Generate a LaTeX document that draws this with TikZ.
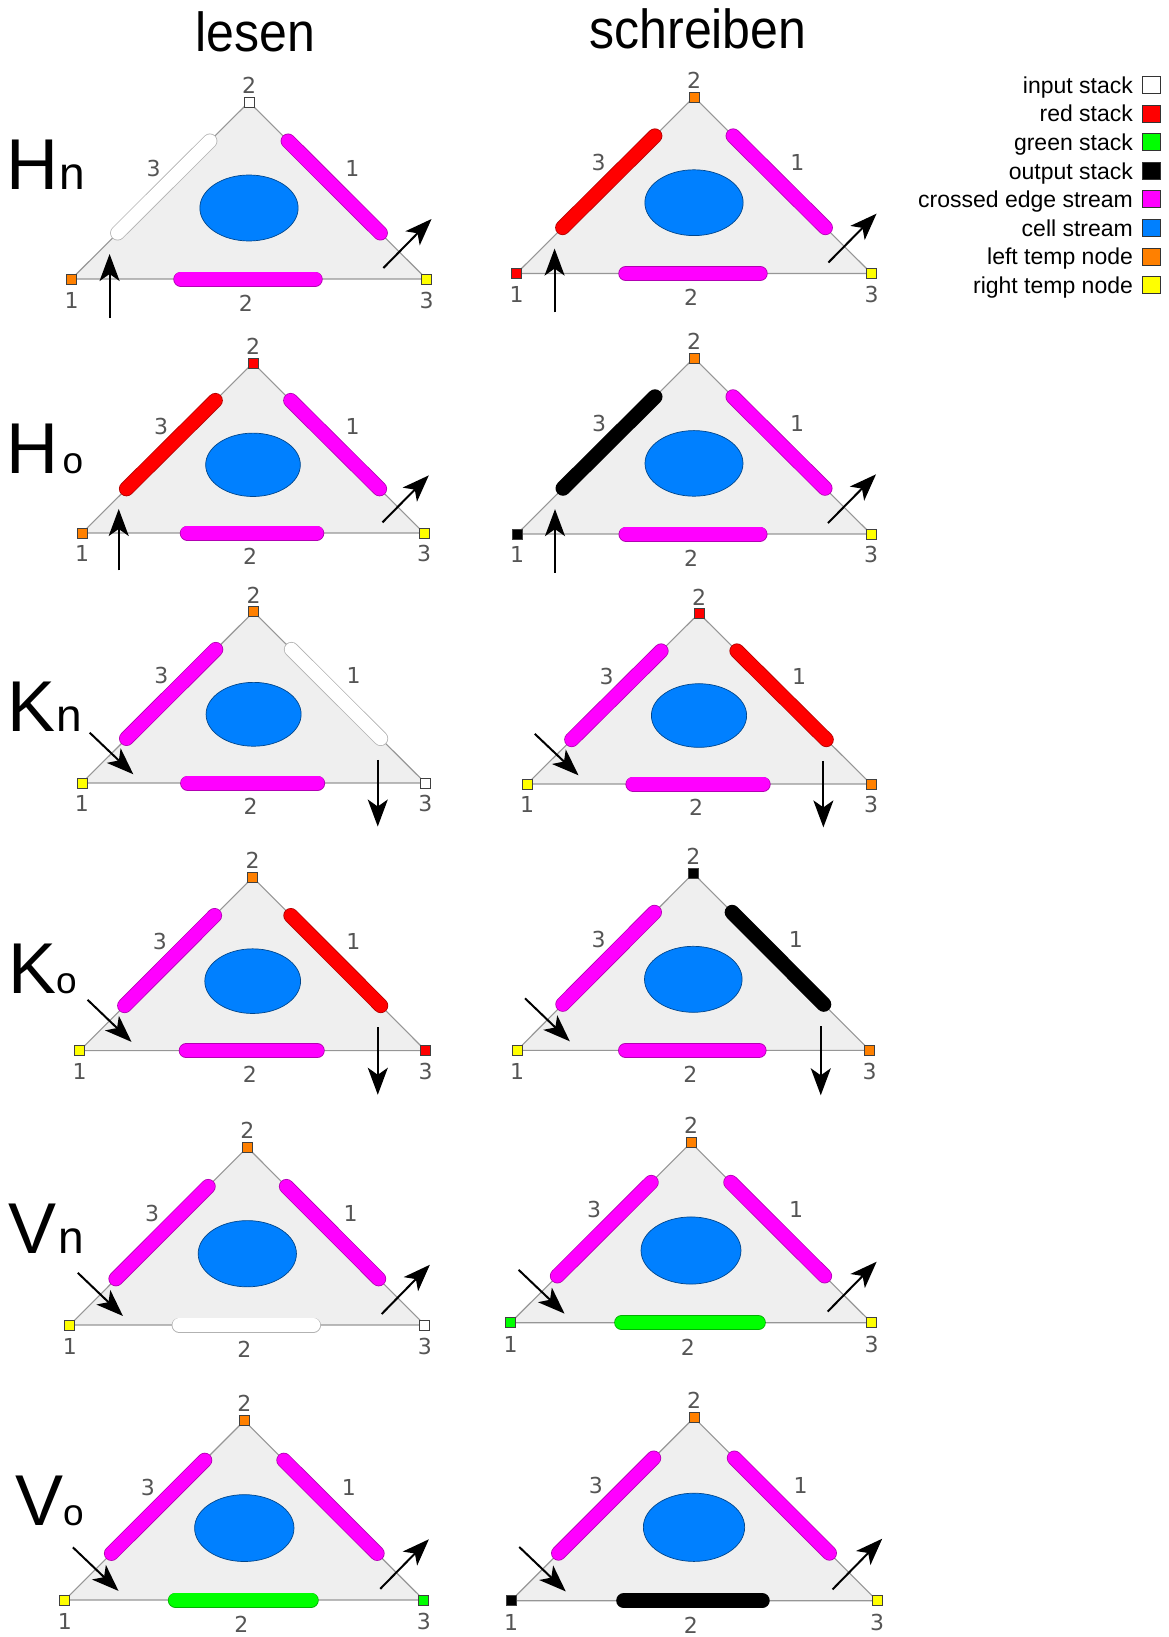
\documentclass[tikz,border=0pt]{standalone}
\usepackage{fontspec}
\setmainfont{Liberation Sans}
\newfontfamily\digitfont{DejaVu Sans}
\newfontfamily\headfont[FakeStretch=0.91]{Liberation Sans}
\usepackage{xcolor}
\usepackage{tikz}
\usetikzlibrary{arrows.meta, positioning}

\definecolor{tmporange}{RGB}{255,128,0}
\definecolor{tmpyellow}{RGB}{255,255,0}
\definecolor{stackred}{RGB}{255,0,0}
\definecolor{stackgreen}{RGB}{0,255,0}
\definecolor{edgemag}{RGB}{255,0,255}
\definecolor{cellblue}{RGB}{0,128,255}
\definecolor{cellgray}{RGB}{239,239,239}
\definecolor{edgegray}{RGB}{150,150,150}
\definecolor{lblgray}{RGB}{85,85,85}

\tikzset{
  cellbg/.style={fill=cellgray, draw=edgegray, line width=1.1pt},
  bar/.style={line cap=round, line width=0.8pt, draw=#1!70!black, double=#1, double distance=13.4pt},
  cellfill/.style={fill=cellblue, draw=cellblue!55!black, line width=0.7pt},
  vsq/.style={rectangle, draw=black!75, line width=0.7pt, minimum size=10pt, inner sep=0pt},
  lbl/.style={font=\fontsize{22}{22}\selectfont\digitfont, text=lblgray, inner sep=0pt},
  flow/.style={line width=2pt, arrows={-Stealth[length=27pt, width=20pt, inset=7pt]}},
  at cell/.style n args={4}{shift={(#1,#2)}, xscale=#3/177, yscale=#4/177},
  legsq/.style={rectangle, draw=black!80, line width=0.8pt, minimum width=18pt, minimum height=17pt, inner sep=0pt},
  legtxt/.style={font=\fontsize{23}{23}\selectfont, text height=16.6pt, text depth=0pt, inner sep=0pt},
  rowlbl/.style={anchor=base west, inner sep=0pt, font=\fontsize{72}{72}\selectfont},
  head/.style={anchor=base, inner sep=0pt, font=\fontsize{55}{55}\selectfont\headfont},
}

% one triangle: #1 name, #2 edge 3, #3 edge 1, #4 edge 2, #5 node 1, #6 node 2, #7 node 3
\newcommand{\tricell}[7]{%
  \coordinate (#1-p1) at (-177,177);
  \coordinate (#1-p2) at (0,0);
  \coordinate (#1-p3) at (177,177);
  \filldraw[cellbg] (#1-p1) -- (#1-p2) -- (#1-p3) -- cycle;
  % edge streams / stacks
  \draw[bar=#2] (-39,39) -- (-131,131);
  \draw[bar=#3] (39,39) -- (131,131);
  \draw[bar=#4] (-68,177) -- (66,177);
  % cell stream
  \filldraw[cellfill] (0,106) ellipse [x radius=49, y radius=33];
  % temp nodes
  \node[vsq, fill=#5] (#1-n1) at (#1-p1) {};
  \node[vsq, fill=#6] (#1-n2) at (#1-p2) {};
  \node[vsq, fill=#7] (#1-n3) at (#1-p3) {};
  \node[lbl] (#1-t1) at (-177,198) {1};
  \node[lbl] (#1-t2) at (0,-17) {2};
  \node[lbl] (#1-t3) at (177,198) {3};
  \node[lbl] (#1-e3) at (-95,66) {3};
  \node[lbl] (#1-e1) at (103,66) {1};
  \node[lbl] (#1-e2) at (-3,201) {2};
}
\newcommand{\inup}[1]{%
  \coordinate (#1-ia) at (-139,216); \coordinate (#1-ib) at (-139,152);
  \draw[flow] (#1-ia) -- (#1-ib);}
\newcommand{\indiag}[1]{%
  \coordinate (#1-ia) at (-169,125); \coordinate (#1-ib) at (-124,168);
  \draw[flow] (#1-ia) -- (#1-ib);}
\newcommand{\outdiag}[1]{%
  \coordinate (#1-oa) at (134,166); \coordinate (#1-ob) at (182,117);
  \draw[flow] (#1-oa) -- (#1-ob);}
\newcommand{\outdown}[1]{%
  \coordinate (#1-oa) at (128,153); \coordinate (#1-ob) at (128,222);
  \draw[flow] (#1-oa) -- (#1-ob);}

\begin{document}
\begin{tikzpicture}[x=1pt, y=-1pt]
  \useasboundingbox (0,0) rectangle (1168,1637);
  % column heads
  \node[head] (head-lesen) at (255.5,52) {lesen};
  \node[head] (head-schreiben) at (698,49) {schreiben};
  % row heads
  \node[rowlbl] (row-hn) at (6.5,190) {H\kern1pt{\fontsize{46}{46}\selectfont n}};
  \node[rowlbl] (row-ho) at (6.5,473) {H\kern4pt{\fontsize{37}{37}\selectfont o}};
  \node[rowlbl] (row-kn) at (7.5,731) {K\kern1pt{\fontsize{46}{46}\selectfont n}};
  \node[rowlbl] (row-ko) at (8,993) {K{\fontsize{37}{37}\selectfont o}};
  \node[rowlbl] (row-vn) at (8.3,1253) {V\kern2pt{\fontsize{46}{46}\selectfont n}};
  \node[rowlbl] (row-vo) at (15,1525) {V{\fontsize{37}{37}\selectfont o}};

  % H
  \begin{scope}[at cell={249}{102}{177.5}{177}]
    \tricell{hnl}{white}{edgemag}{edgemag}{tmporange}{white}{tmpyellow}
    \inup{hnl} \outdiag{hnl}
  \end{scope}
  \begin{scope}[at cell={694}{97}{177.5}{176.5}]
    \tricell{hnr}{stackred}{edgemag}{edgemag}{stackred}{tmporange}{tmpyellow}
    \inup{hnr} \outdiag{hnr}
  \end{scope}
  \begin{scope}[at cell={253}{363}{171}{170}]
    \tricell{hol}{stackred}{edgemag}{edgemag}{tmporange}{stackred}{tmpyellow}
    \inup{hol} \outdiag{hol}
  \end{scope}
  \begin{scope}[at cell={694}{358}{177}{176}]
    \tricell{hor}{black}{edgemag}{edgemag}{black}{tmporange}{tmpyellow}
    \inup{hor} \outdiag{hor}
  \end{scope}
  % K
  \begin{scope}[at cell={253.6}{611.7}{171.7}{171.3}]
    \tricell{knl}{edgemag}{white}{edgemag}{tmpyellow}{tmporange}{white}
    \indiag{knl} \outdown{knl}
  \end{scope}
  \begin{scope}[at cell={699}{613.3}{172}{170.7}]
    \tricell{knr}{edgemag}{stackred}{edgemag}{tmpyellow}{stackred}{tmporange}
    \indiag{knr} \outdown{knr}
  \end{scope}
  \begin{scope}[at cell={252.7}{877.3}{173}{173.4}]
    \tricell{kol}{edgemag}{stackred}{edgemag}{tmpyellow}{tmporange}{stackred}
    \indiag{kol} \outdown{kol}
  \end{scope}
  \begin{scope}[at cell={693.3}{873.3}{176.3}{177}]
    \tricell{kor}{edgemag}{black}{edgemag}{tmpyellow}{black}{tmporange}
    \indiag{kor} \outdown{kor}
  \end{scope}
  % V
  \begin{scope}[at cell={247.3}{1147.3}{177.5}{177.7}]
    \tricell{vnl}{edgemag}{edgemag}{white}{tmpyellow}{tmporange}{white}
    \indiag{vnl} \outdiag{vnl}
  \end{scope}
  \begin{scope}[at cell={691}{1142.7}{180.5}{180}]
    \tricell{vnr}{edgemag}{edgemag}{stackgreen}{stackgreen}{tmporange}{tmpyellow}
    \indiag{vnr} \outdiag{vnr}
  \end{scope}
  \begin{scope}[at cell={244.3}{1420.7}{179.5}{179.3}]
    \tricell{vol}{edgemag}{edgemag}{stackgreen}{tmpyellow}{tmporange}{stackgreen}
    \indiag{vol} \outdiag{vol}
  \end{scope}
  \begin{scope}[at cell={694}{1417.7}{183}{183}]
    \tricell{vor}{edgemag}{edgemag}{black}{black}{tmporange}{tmpyellow}
    \indiag{vor} \outdiag{vor}
  \end{scope}

  % legend
  \foreach \txt/\col [count=\i from 0] in {input stack/white, red stack/stackred,
      green stack/stackgreen, output stack/black, crossed edge stream/edgemag,
      cell stream/cellblue, left temp node/tmporange, right temp node/tmpyellow}{
    \node[legsq, fill=\col] (legsq\i) at (1151.5,{85+28.6*\i}) {};
    \node[legtxt, left=9pt of legsq\i] (legtxt\i) {\txt};
  }
\end{tikzpicture}
\end{document}
